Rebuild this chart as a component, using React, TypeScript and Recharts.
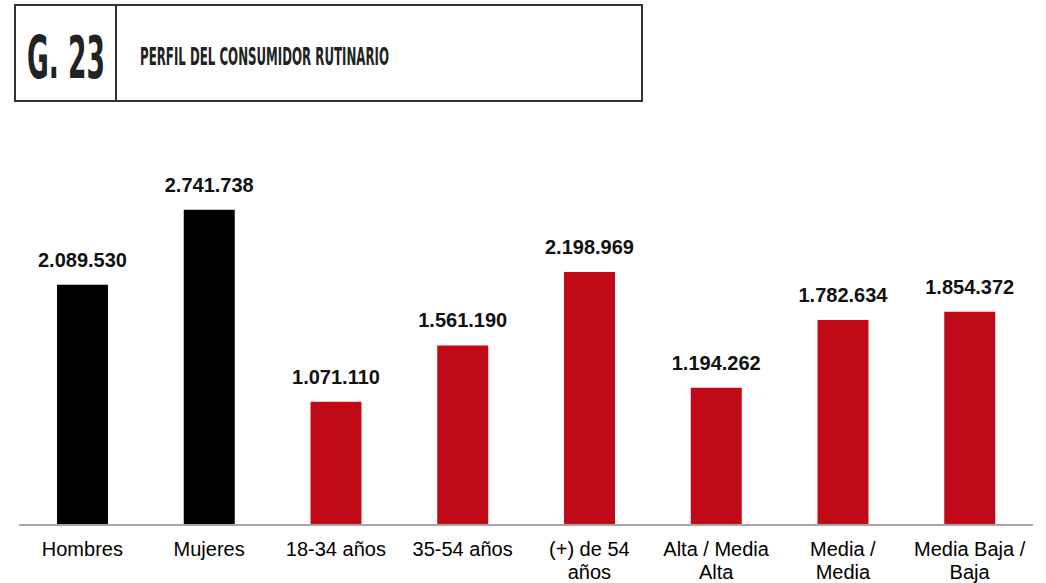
import * as React from "react"
import { BarChart, Bar, XAxis, YAxis, Cell, LabelList } from "recharts"

const categories = [
  "Hombres",
  "Mujeres",
  "18-34 años",
  "35-54 años",
  "(+) de 54 años",
  "Alta / Media Alta",
  "Media / Media",
  "Media Baja / Baja",
]
const tickLines = [
  ["Hombres"],
  ["Mujeres"],
  ["18-34 años"],
  ["35-54 años"],
  ["(+) de 54", "años"],
  ["Alta / Media", "Alta"],
  ["Media /", "Media"],
  ["Media Baja /", "Baja"],
]
const consumers = [2089530, 2741738, 1071110, 1561190, 2198969, 1194262, 1782634, 1854372]
const groups = ["sexo", "sexo", "edad", "edad", "edad", "nse", "nse", "nse"]

const BLACK = "#000000"
const RED = "#C00A17"
const FONT = "'Liberation Sans', Arial, sans-serif"
const NARROW = "'Liberation Sans Narrow', 'DejaVu Sans Condensed', sans-serif"

const fmt = (v: number) => v.toLocaleString("de-DE")

const data = categories.map((name, i) => ({ name, value: consumers[i], group: groups[i] }))

function CategoryTick(props: any) {
  const { x, y, payload } = props
  const lines = tickLines[payload.index] ?? [payload.value]
  return (
    <text x={x} y={y} textAnchor="middle" fontFamily={FONT} fontSize={20} fill="#000">
      {lines.map((l, i) => (
        <tspan key={i} x={x} dy={23}>
          {l}
        </tspan>
      ))}
    </text>
  )
}

// condensed display type: small font stretched vertically
function Header() {
  return (
    <svg width={660} height={110} style={{ position: "absolute", left: 0, top: 0 }}>
      <rect x={15} y={5} width={627} height={96} fill="none" stroke="#333" strokeWidth={2} />
      <line x1={116} y1={5} x2={116} y2={101} stroke="#333" strokeWidth={2} />
      <g transform="translate(27,78) scale(1,1.5)">
        <text
          x={0}
          y={0}
          fontFamily={NARROW}
          fontWeight={700}
          fontSize={39}
          fill="#222"
          textLength={78}
          lengthAdjust="spacingAndGlyphs"
        >
          G. 23
        </text>
      </g>
      <g transform="translate(140,65) scale(1,1.7)">
        <text
          x={0}
          y={0}
          fontFamily={NARROW}
          fontWeight={700}
          fontSize={15}
          fill="#222"
          textLength={249}
          lengthAdjust="spacingAndGlyphs"
        >
          PERFIL DEL CONSUMIDOR RUTINARIO
        </text>
      </g>
    </svg>
  )
}

export default function App() {
  return (
    <div style={{ position: "absolute", left: 0, top: 0, width: 1046, height: 583, background: "#fff" }}>
      <BarChart
        width={1046}
        height={583}
        data={data}
        margin={{ top: 180, right: 13, bottom: 0, left: 19 }}
      >
        <XAxis
          dataKey="name"
          interval={0}
          height={58}
          tickLine={false}
          axisLine={{ stroke: "#a6a6a6", strokeWidth: 2 }}
          tick={<CategoryTick />}
        />
        <YAxis hide domain={[0, 3000000]} />
        <Bar dataKey="value" barSize={51} isAnimationActive={false}>
          {data.map((d, i) => (
            <Cell key={`cell-${i}`} fill={d.group === "sexo" ? BLACK : RED} />
          ))}
          <LabelList
            dataKey="value"
            position="top"
            offset={18}
            formatter={(v: any) => fmt(Number(v))}
            style={{ fontFamily: FONT, fontSize: 20, fontWeight: 700, fill: "#111" }}
          />
        </Bar>
      </BarChart>
      <Header />
    </div>
  )
}
